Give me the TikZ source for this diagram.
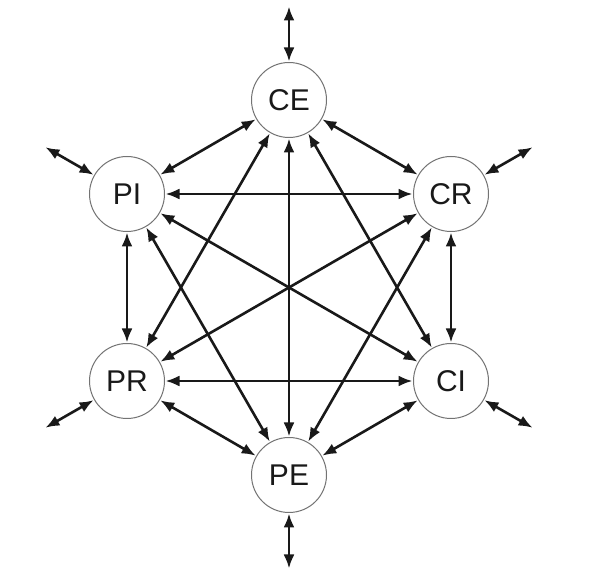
\documentclass[tikz,border=0pt]{standalone}
\usepackage{fontspec}
\setmainfont{Liberation Sans}
\usetikzlibrary{arrows.meta}
\begin{document}
\begin{tikzpicture}[x=1pt,y=-1pt,
  st/.style={circle,draw=black!55,line width=1pt,fill=white,minimum size=75pt,inner sep=0pt,text=black!90,font=\fontsize{30}{30}\selectfont},
  link/.style={line width=2.6pt,black!90,{Latex[length=14pt,width=11pt]}-{Latex[length=14pt,width=11pt]},shorten <=0.5pt,shorten >=0.5pt}]
\useasboundingbox (0,0) rectangle (590,585);
\node[st] (CE) at (289,100) {CE};
\node[st] (PI) at (127,194) {PI};
\node[st] (CR) at (451,194) {CR};
\node[st] (PR) at (127,381) {PR};
\node[st] (CI) at (451,381) {CI};
\node[st] (PE) at (289,475) {PE};
\coordinate (oCE) at (289,6);
\coordinate (oPE) at (289,569);
\coordinate (oPI) at (45,147);
\coordinate (oCR) at (533,147);
\coordinate (oPR) at (45,428);
\coordinate (oCI) at (533,428);
\foreach \n in {CE,PE,PI,CR,PR,CI}{\draw[link] (\n) -- (o\n);}
\foreach \a/\b in {CE/PI,CE/CR,CE/PR,CE/CI,CE/PE,PI/CR,PI/PR,PI/CI,PI/PE,CR/PR,CR/CI,CR/PE,PR/CI,PR/PE,CI/PE}{\draw[link] (\a) -- (\b);}
\end{tikzpicture}
\end{document}
